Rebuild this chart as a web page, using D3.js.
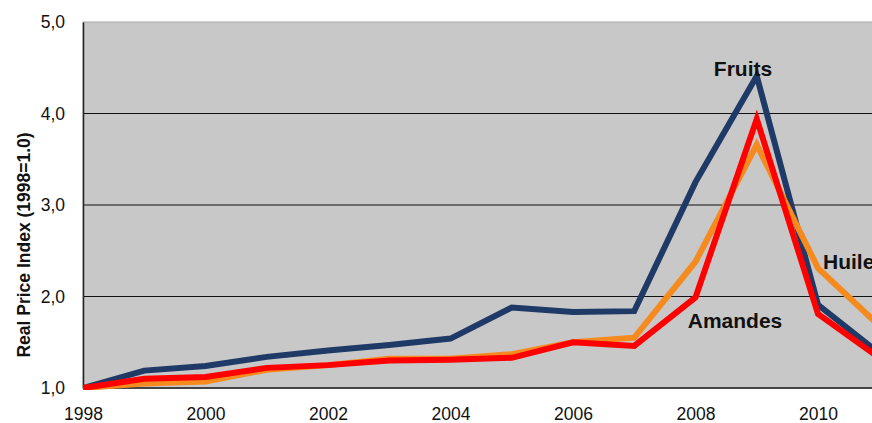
<!DOCTYPE html>
<html>
<head>
<meta charset="utf-8">
<script src="https://cdn.jsdelivr.net/npm/d3@7"></script>
<style>
  body { margin: 0; background: #fff; }
  svg { display: block; font-family: Arial, "Liberation Sans", sans-serif; }
</style>
</head>
<body>
<svg id="chart"></svg>
<script>
// yearly real price index, 1998 = 1.0
const years = [1998, 1999, 2000, 2001, 2002, 2003, 2004, 2005, 2006, 2007, 2008, 2009, 2010, 2011];
const fruits  = [1.0, 1.19, 1.24, 1.34, 1.41, 1.47, 1.54, 1.88, 1.83, 1.84, 3.25, 4.41, 1.91, 1.38];
const huile   = [1.0, 1.05, 1.07, 1.20, 1.25, 1.32, 1.32, 1.37, 1.50, 1.55, 2.38, 3.66, 2.31, 1.68];
const amandes = [1.0, 1.10, 1.12, 1.22, 1.25, 1.30, 1.31, 1.33, 1.50, 1.46, 1.99, 3.94, 1.81, 1.33];
const xTicks = [1998, 2000, 2002, 2004, 2006, 2008, 2010];
const yTicks = [1, 2, 3, 4, 5];

const series = [
  {name: 'Fruits', values: fruits, color: '#1f3a66'},
  {name: 'Huile', values: huile, color: '#f58a1f'},
  {name: 'Amandes', values: amandes, color: '#ff0000'}
];

const W = 872, H = 423;
const margin = {top: 22, left: 83, bottom: 35};
const font = 'Arial, "Liberation Sans", sans-serif';

const svg = d3.select('#chart').attr('width', W).attr('height', H);

const x = d3.scaleLinear().domain([1998, 2010]).range([margin.left, 818]);
const y = d3.scaleLinear().domain([1, 5]).range([H - margin.bottom, margin.top]);

svg.append('defs').append('clipPath').attr('id', 'clip')
  .append('rect')
  .attr('x', margin.left).attr('y', 0)
  .attr('width', W - margin.left).attr('height', H - margin.bottom + 2);

// plot background
svg.append('rect')
  .attr('x', margin.left).attr('y', y(5))
  .attr('width', W - margin.left + 5).attr('height', y(1) - y(5))
  .attr('fill', '#c8c8c8')
  .attr('stroke', '#a8a8a8');

// gridlines
svg.append('g')
  .selectAll('line')
  .data([2, 3, 4])
  .join('line')
  .attr('x1', margin.left).attr('x2', W)
  .attr('y1', d => y(d)).attr('y2', d => y(d))
  .attr('stroke', '#111').attr('stroke-width', 1);

// axes
const yAxis = svg.append('g')
  .attr('transform', `translate(${margin.left},0)`)
  .call(d3.axisLeft(y).tickValues(yTicks).tickSize(0).tickPadding(18)
    .tickFormat(d => d3.format('.1f')(d).replace('.', ',')));
yAxis.select('.domain').attr('stroke', '#222').attr('stroke-width', 1.5);
yAxis.selectAll('text').attr('font-size', 17.5).attr('fill', '#111')
  .attr('font-family', font);

const xAxis = svg.append('g')
  .attr('transform', `translate(0,${y(1)})`)
  .call(d3.axisBottom(x).tickValues(xTicks).tickSize(0).tickPadding(20)
    .tickFormat(d3.format('d')));
xAxis.select('.domain').remove();
xAxis.append('line')
  .attr('x1', margin.left).attr('x2', W)
  .attr('stroke', '#444').attr('stroke-width', 2);
xAxis.selectAll('text').attr('font-size', 17.5).attr('fill', '#111')
  .attr('font-family', font);

// axis title
svg.append('text')
  .attr('transform', `translate(30,245) rotate(-90)`)
  .attr('text-anchor', 'middle')
  .attr('font-size', 17.5).attr('font-weight', 'bold').attr('fill', '#111')
  .text('Real Price Index (1998=1.0)');

// lines
const line = d3.line()
  .x((d, i) => x(years[i]))
  .y(d => y(d));

svg.append('g').attr('clip-path', 'url(#clip)')
  .selectAll('path')
  .data(series)
  .join('path')
  .attr('d', d => line(d.values))
  .attr('fill', 'none')
  .attr('stroke', d => d.color)
  .attr('stroke-width', 6)
  .attr('stroke-linejoin', 'miter');

// series labels
const labels = [
  {text: 'Fruits', x: 743, y: 69, anchor: 'middle'},
  {text: 'Huile', x: 823, y: 262, anchor: 'start'},
  {text: 'Amandes', x: 735, y: 321, anchor: 'middle'}
];
svg.append('g')
  .selectAll('text')
  .data(labels)
  .join('text')
  .attr('x', d => d.x).attr('y', d => d.y)
  .attr('dy', '0.35em')
  .attr('text-anchor', d => d.anchor)
  .attr('font-size', 21).attr('font-weight', 'bold').attr('fill', '#111')
  .text(d => d.text);
</script>
</body>
</html>
